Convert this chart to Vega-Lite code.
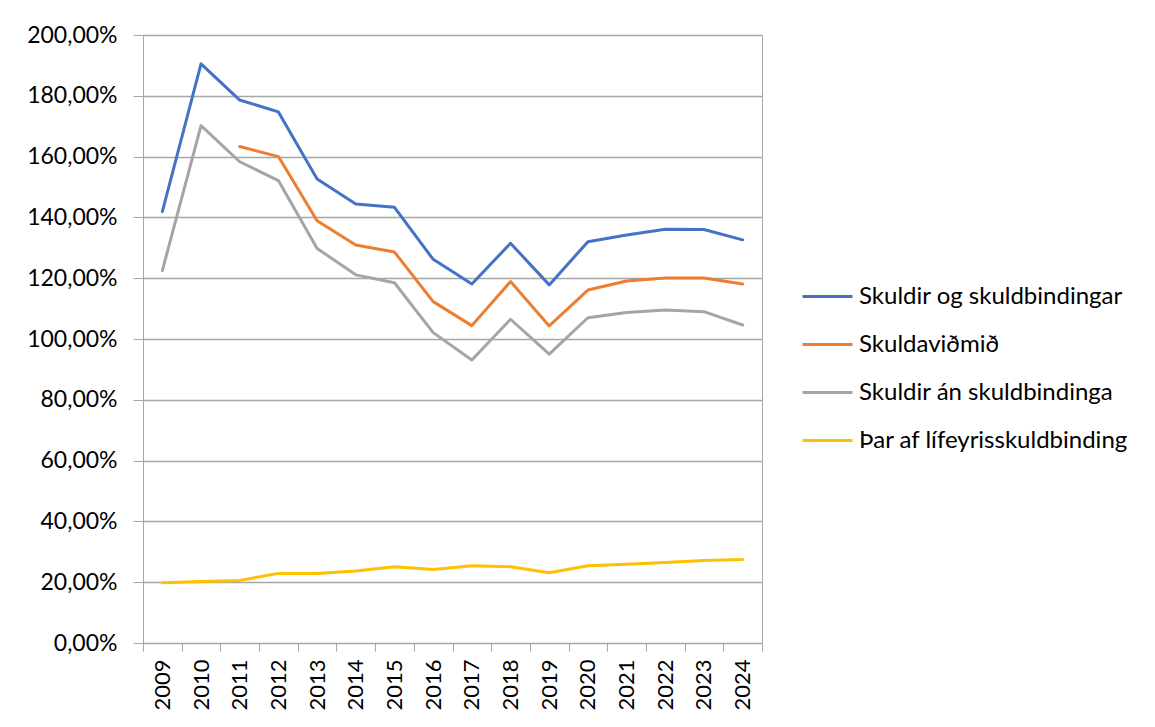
{
  "$schema": "https://vega.github.io/schema/vega-lite/v6.json",
  "autosize": "none",
  "width": 619,
  "height": 608,
  "padding": {"left": 143, "top": 35, "right": 393, "bottom": 84},
  "background": "white",
  "config": {
    "font": "Lato",
    "view": {"stroke": "#a6a6a6", "strokeWidth": 1}
  },
  "data": {
    "values": [
      {"year": "2009", "series": "Skuldir og skuldbindingar", "value": 141.9},
      {"year": "2010", "series": "Skuldir og skuldbindingar", "value": 190.5},
      {"year": "2011", "series": "Skuldir og skuldbindingar", "value": 178.6},
      {"year": "2012", "series": "Skuldir og skuldbindingar", "value": 174.7},
      {"year": "2013", "series": "Skuldir og skuldbindingar", "value": 152.6},
      {"year": "2014", "series": "Skuldir og skuldbindingar", "value": 144.4},
      {"year": "2015", "series": "Skuldir og skuldbindingar", "value": 143.3},
      {"year": "2016", "series": "Skuldir og skuldbindingar", "value": 126.2},
      {"year": "2017", "series": "Skuldir og skuldbindingar", "value": 118.1},
      {"year": "2018", "series": "Skuldir og skuldbindingar", "value": 131.5},
      {"year": "2019", "series": "Skuldir og skuldbindingar", "value": 117.8},
      {"year": "2020", "series": "Skuldir og skuldbindingar", "value": 132.0},
      {"year": "2021", "series": "Skuldir og skuldbindingar", "value": 134.2},
      {"year": "2022", "series": "Skuldir og skuldbindingar", "value": 136.1},
      {"year": "2023", "series": "Skuldir og skuldbindingar", "value": 136.0},
      {"year": "2024", "series": "Skuldir og skuldbindingar", "value": 132.6},
      {"year": "2011", "series": "Skuldaviðmið", "value": 163.3},
      {"year": "2012", "series": "Skuldaviðmið", "value": 160.0},
      {"year": "2013", "series": "Skuldaviðmið", "value": 138.9},
      {"year": "2014", "series": "Skuldaviðmið", "value": 130.9},
      {"year": "2015", "series": "Skuldaviðmið", "value": 128.6},
      {"year": "2016", "series": "Skuldaviðmið", "value": 112.3},
      {"year": "2017", "series": "Skuldaviðmið", "value": 104.4},
      {"year": "2018", "series": "Skuldaviðmið", "value": 118.9},
      {"year": "2019", "series": "Skuldaviðmið", "value": 104.3},
      {"year": "2020", "series": "Skuldaviðmið", "value": 116.1},
      {"year": "2021", "series": "Skuldaviðmið", "value": 119.1},
      {"year": "2022", "series": "Skuldaviðmið", "value": 120.1},
      {"year": "2023", "series": "Skuldaviðmið", "value": 120.1},
      {"year": "2024", "series": "Skuldaviðmið", "value": 118.1},
      {"year": "2009", "series": "Skuldir án skuldbindinga", "value": 122.5},
      {"year": "2010", "series": "Skuldir án skuldbindinga", "value": 170.2},
      {"year": "2011", "series": "Skuldir án skuldbindinga", "value": 158.3},
      {"year": "2012", "series": "Skuldir án skuldbindinga", "value": 152.1},
      {"year": "2013", "series": "Skuldir án skuldbindinga", "value": 129.8},
      {"year": "2014", "series": "Skuldir án skuldbindinga", "value": 121.1},
      {"year": "2015", "series": "Skuldir án skuldbindinga", "value": 118.5},
      {"year": "2016", "series": "Skuldir án skuldbindinga", "value": 102.1},
      {"year": "2017", "series": "Skuldir án skuldbindinga", "value": 93.1},
      {"year": "2018", "series": "Skuldir án skuldbindinga", "value": 106.5},
      {"year": "2019", "series": "Skuldir án skuldbindinga", "value": 95.0},
      {"year": "2020", "series": "Skuldir án skuldbindinga", "value": 107.0},
      {"year": "2021", "series": "Skuldir án skuldbindinga", "value": 108.7},
      {"year": "2022", "series": "Skuldir án skuldbindinga", "value": 109.5},
      {"year": "2023", "series": "Skuldir án skuldbindinga", "value": 109.0},
      {"year": "2024", "series": "Skuldir án skuldbindinga", "value": 104.6},
      {"year": "2009", "series": "Þar af lífeyrisskuldbinding", "value": 19.8},
      {"year": "2010", "series": "Þar af lífeyrisskuldbinding", "value": 20.2},
      {"year": "2011", "series": "Þar af lífeyrisskuldbinding", "value": 20.6},
      {"year": "2012", "series": "Þar af lífeyrisskuldbinding", "value": 22.9},
      {"year": "2013", "series": "Þar af lífeyrisskuldbinding", "value": 22.9},
      {"year": "2014", "series": "Þar af lífeyrisskuldbinding", "value": 23.7},
      {"year": "2015", "series": "Þar af lífeyrisskuldbinding", "value": 25.1},
      {"year": "2016", "series": "Þar af lífeyrisskuldbinding", "value": 24.2},
      {"year": "2017", "series": "Þar af lífeyrisskuldbinding", "value": 25.4},
      {"year": "2018", "series": "Þar af lífeyrisskuldbinding", "value": 25.1},
      {"year": "2019", "series": "Þar af lífeyrisskuldbinding", "value": 23.1},
      {"year": "2020", "series": "Þar af lífeyrisskuldbinding", "value": 25.4},
      {"year": "2021", "series": "Þar af lífeyrisskuldbinding", "value": 25.9},
      {"year": "2022", "series": "Þar af lífeyrisskuldbinding", "value": 26.5},
      {"year": "2023", "series": "Þar af lífeyrisskuldbinding", "value": 27.1},
      {"year": "2024", "series": "Þar af lífeyrisskuldbinding", "value": 27.5}
    ]
  },
  "mark": {"type": "line", "strokeWidth": 3, "strokeCap": "round", "strokeJoin": "round"},
  "encoding": {
    "x": {
      "field": "year",
      "type": "ordinal",
      "bandPosition": 0.5,
      "scale": {"type": "band", "paddingInner": 0, "paddingOuter": 0},
      "axis": {
        "title": null,
        "labelAngle": -90,
        "labelAlign": "right",
        "labelBaseline": "middle",
        "labelFontSize": 22,
        "labelColor": "#000000",
        "labelPadding": 8,
        "tickBand": "extent",
        "tickSize": 8,
        "tickColor": "#a6a6a6",
        "domainColor": "#a6a6a6",
        "grid": false
      }
    },
    "y": {
      "field": "value",
      "type": "quantitative",
      "scale": {"domain": [0, 200], "nice": false},
      "axis": {
        "title": null,
        "values": [0, 20, 40, 60, 80, 100, 120, 140, 160, 180, 200],
        "labelExpr": "replace(format(datum.value, '.2f'), '.', ',') + '%'",
        "labelFontSize": 23,
        "labelColor": "#000000",
        "labelPadding": 16,
        "tickSize": 10,
        "tickColor": "#a6a6a6",
        "domainColor": "#a6a6a6",
        "gridColor": "#a6a6a6",
        "gridWidth": 1.5
      }
    },
    "color": {
      "field": "series",
      "type": "nominal",
      "scale": {
        "domain": ["Skuldir og skuldbindingar", "Skuldaviðmið", "Skuldir án skuldbindinga", "Þar af lífeyrisskuldbinding"],
        "range": ["#4472C4", "#ED7D31", "#A5A5A5", "#FFC000"]
      },
      "legend": {
        "title": null,
        "orient": "none",
        "legendX": 658,
        "legendY": 235,
        "padding": 0,
        "symbolType": "stroke",
        "symbolSize": 2500,
        "symbolStrokeWidth": 3,
        "labelFontSize": 24,
        "labelColor": "#000000",
        "labelOffset": 5,
        "rowPadding": 9,
        "labelLimit": 400
      }
    }
  }
}
